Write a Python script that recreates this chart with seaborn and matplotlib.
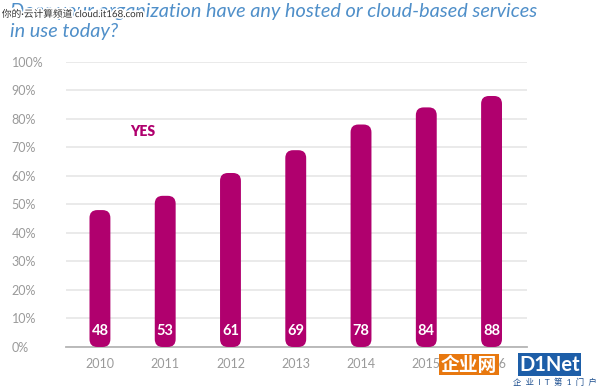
import pandas as pd
import matplotlib
matplotlib.use("Agg")
import matplotlib.pyplot as plt
import seaborn as sns
from matplotlib.patches import FancyBboxPatch
import matplotlib.patheffects as pe

years = ["2010", "2011", "2012", "2013", "2014", "2015", "2016"]
yes_pct = [48, 53, 61, 69, 78, 84, 88]
y_ticks = [0, 10, 20, 30, 40, 50, 60, 70, 80, 90, 100]

BAR = "#b0006e"
GREY = "#9a9a9a"

sns.set_theme(style="white")
plt.rcParams["font.family"] = ["Lato", "Noto Sans CJK SC", "DejaVu Sans"]

df = pd.DataFrame({"year": years, "pct": yes_pct})

fig = plt.figure(figsize=(6, 3.87), dpi=100)
ax = fig.add_axes([0.11, 0.1034, 0.768, 0.737])

sns.barplot(data=df, x="year", y="pct", color=BAR, width=0.32, ax=ax, zorder=3)

ax.set_xlim(-0.52, 6.54)
ax.set_ylim(0, 100)

# swap plain rectangles for rounded ones
x_per_px = (6.54 + 0.52) / (0.768 * 600)
y_per_px = 100 / (0.737 * 387)
aspect = y_per_px / x_per_px
for p in list(ax.patches):
    x, y, w, h = p.get_x(), p.get_y(), p.get_width(), p.get_height()
    p.remove()
    ax.add_patch(FancyBboxPatch((x, y), w, h,
                                boxstyle="round,pad=0,rounding_size=0.12",
                                mutation_aspect=aspect, facecolor=BAR,
                                edgecolor="none", zorder=3))

for i, v in enumerate(yes_pct):
    ax.text(i, 5.5, str(v), ha="center", va="center", color="white",
            fontsize=10.5, fontweight="bold", zorder=4)

ax.text(0.65, 75.5, "YES", ha="center", va="center", color=BAR,
        fontsize=10, fontweight="heavy")

ax.set_yticks(y_ticks)
ax.set_yticklabels([f"{t}%" for t in y_ticks])
ax.yaxis.grid(True, color="#e6e6e6", linewidth=1.2, zorder=0)
ax.set_axisbelow(True)
for s in ["top", "right", "left"]:
    ax.spines[s].set_visible(False)
ax.spines["bottom"].set_color("#b5b5b5")
ax.spines["bottom"].set_linewidth(1.3)
ax.tick_params(axis="both", length=0, labelsize=9, labelcolor=GREY)
ax.tick_params(axis="y", pad=39)
ax.tick_params(axis="x", pad=8)
for lab in ax.get_yticklabels():
    lab.set_horizontalalignment("left")
ax.set_xlabel("")
ax.set_ylabel("")

fig.text(0.017, 0.992,
         "Does your organization have any hosted or cloud-based services\nin use today?",
         ha="left", va="top", color="#4f8fc9", fontsize=14.3, style="italic",
         linespacing=1.2)

# watermarks from the source image
fig.text(0.003, 0.963, "你的·云计算频道 cloud.it168.com", ha="left", va="center",
         fontsize=7, color="#333333",
         path_effects=[pe.withStroke(linewidth=2.5, foreground="white")])
fig.text(0.735, 0.058, "企业网", ha="left", va="center", fontsize=13.5,
         fontweight="bold", color="white",
         bbox=dict(facecolor="#e8780f", edgecolor="none", pad=1.2))
fig.text(0.865, 0.058, "D1Net", ha="left", va="center", fontsize=14.5,
         fontweight="bold", color="white",
         bbox=dict(facecolor="#1d5ea8", edgecolor="none", pad=0.8))
fig.text(0.995, 0.003, "企  业  I  T  第  1  门  户", ha="right", va="bottom",
         fontsize=6, color="#1d4f8f")

fig.savefig("out.png", dpi=100)
